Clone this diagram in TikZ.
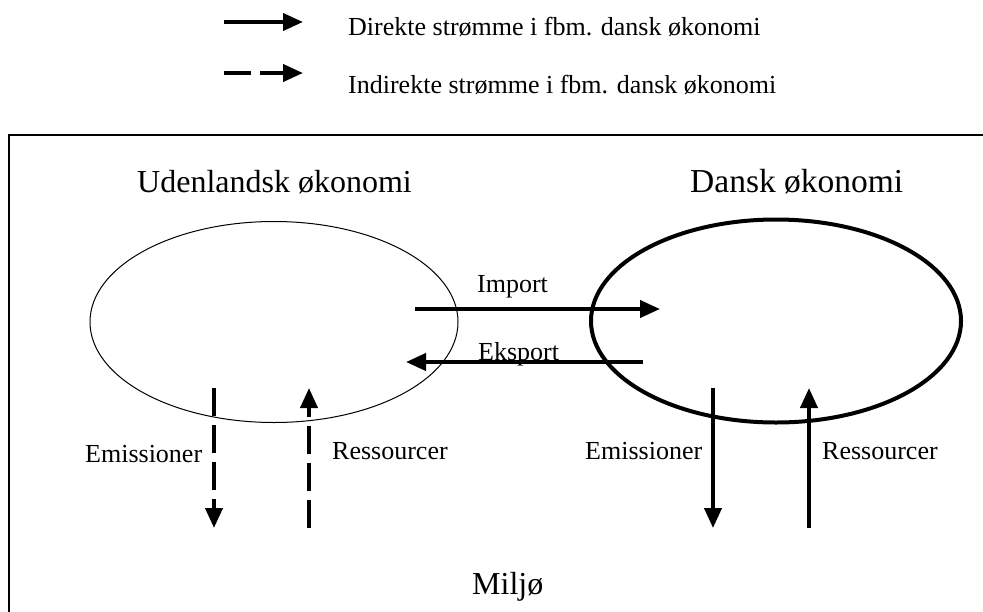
\documentclass[tikz,border=0pt]{standalone}
\usepackage{fontspec}
\setmainfont{Liberation Serif}
\usetikzlibrary{arrows.meta,shapes.geometric}
\begin{document}
\begin{tikzpicture}[x=1pt,y=-1pt,
  flow/.style={line width=4pt,-{Triangle[length=20pt,width=17pt]}},
  indirect/.style={flow,dash pattern=on 28pt off 9pt},
  lbl/.style={anchor=base west,inner sep=0pt,font=\fontsize{26}{30}\selectfont},
  biglbl/.style={anchor=base west,inner sep=0pt,font=\fontsize{32}{38}\selectfont},
  economy/.style={ellipse,draw,inner sep=0pt}]
\useasboundingbox (0,0) rectangle (983,611);

% legend
\coordinate (l1a) at (224,22);
\coordinate (l1b) at (303,22);
\coordinate (l2a) at (224,73);
\coordinate (l2b) at (303,73);
\draw[flow] (l1a) -- (l1b);
\draw[flow,dash pattern=on 27pt off 9pt] (l2a) -- (l2b);
\node[lbl] (leg1) at (348,35) {Direkte strømme i fbm. dansk økonomi};
\node[lbl] (leg2) at (348,93) {Indirekte strømme i fbm. dansk økonomi};

% environment frame (open to the right and bottom)
\draw[line width=1.2pt] (9,620) -- (9,135) -- (990,135);

% the two economies
\node[economy,line width=1pt,minimum width=368pt,minimum height=201pt] (udl) at (274,322) {};
\node[economy,line width=4pt,minimum width=370pt,minimum height=203pt] (dk) at (776,321) {};
\node[biglbl] (udltxt) at (137,192) {Udenlandsk økonomi};
\node[biglbl,font=\fontsize{33.5}{40}\selectfont] (dktxt) at (690,192) {Dansk økonomi};

% trade flows
\coordinate (impA) at (415,309);
\coordinate (impB) at (660,309);
\coordinate (ekpA) at (643,362);
\coordinate (ekpB) at (406,362);
\draw[flow] (impA) -- (impB);
\draw[flow] (ekpA) -- (ekpB);
\node[lbl] (imp) at (477,292) {Import};
\node[lbl] (ekp) at (478,360) {Eksport};

% foreign economy and environment
\coordinate (ue1) at (214,388);
\coordinate (ue2) at (214,528);
\coordinate (ur1) at (309,528);
\coordinate (ur2) at (309,388);
\draw[indirect] (ue1) -- (ue2);
\draw[indirect] (ur1) -- (ur2);
\node[lbl] (uem) at (85,462) {Emissioner};
\node[lbl] (ures) at (332,459) {Ressourcer};

% Danish economy and environment
\coordinate (de1) at (713,388);
\coordinate (de2) at (713,528);
\coordinate (dr1) at (809,528);
\coordinate (dr2) at (809,388);
\draw[flow] (de1) -- (de2);
\draw[flow] (dr1) -- (dr2);
\node[lbl] (dem) at (585,459) {Emissioner};
\node[lbl] (dres) at (822,459) {Ressourcer};

\node[biglbl] (milj) at (472,594) {Miljø};
\end{tikzpicture}
\end{document}
